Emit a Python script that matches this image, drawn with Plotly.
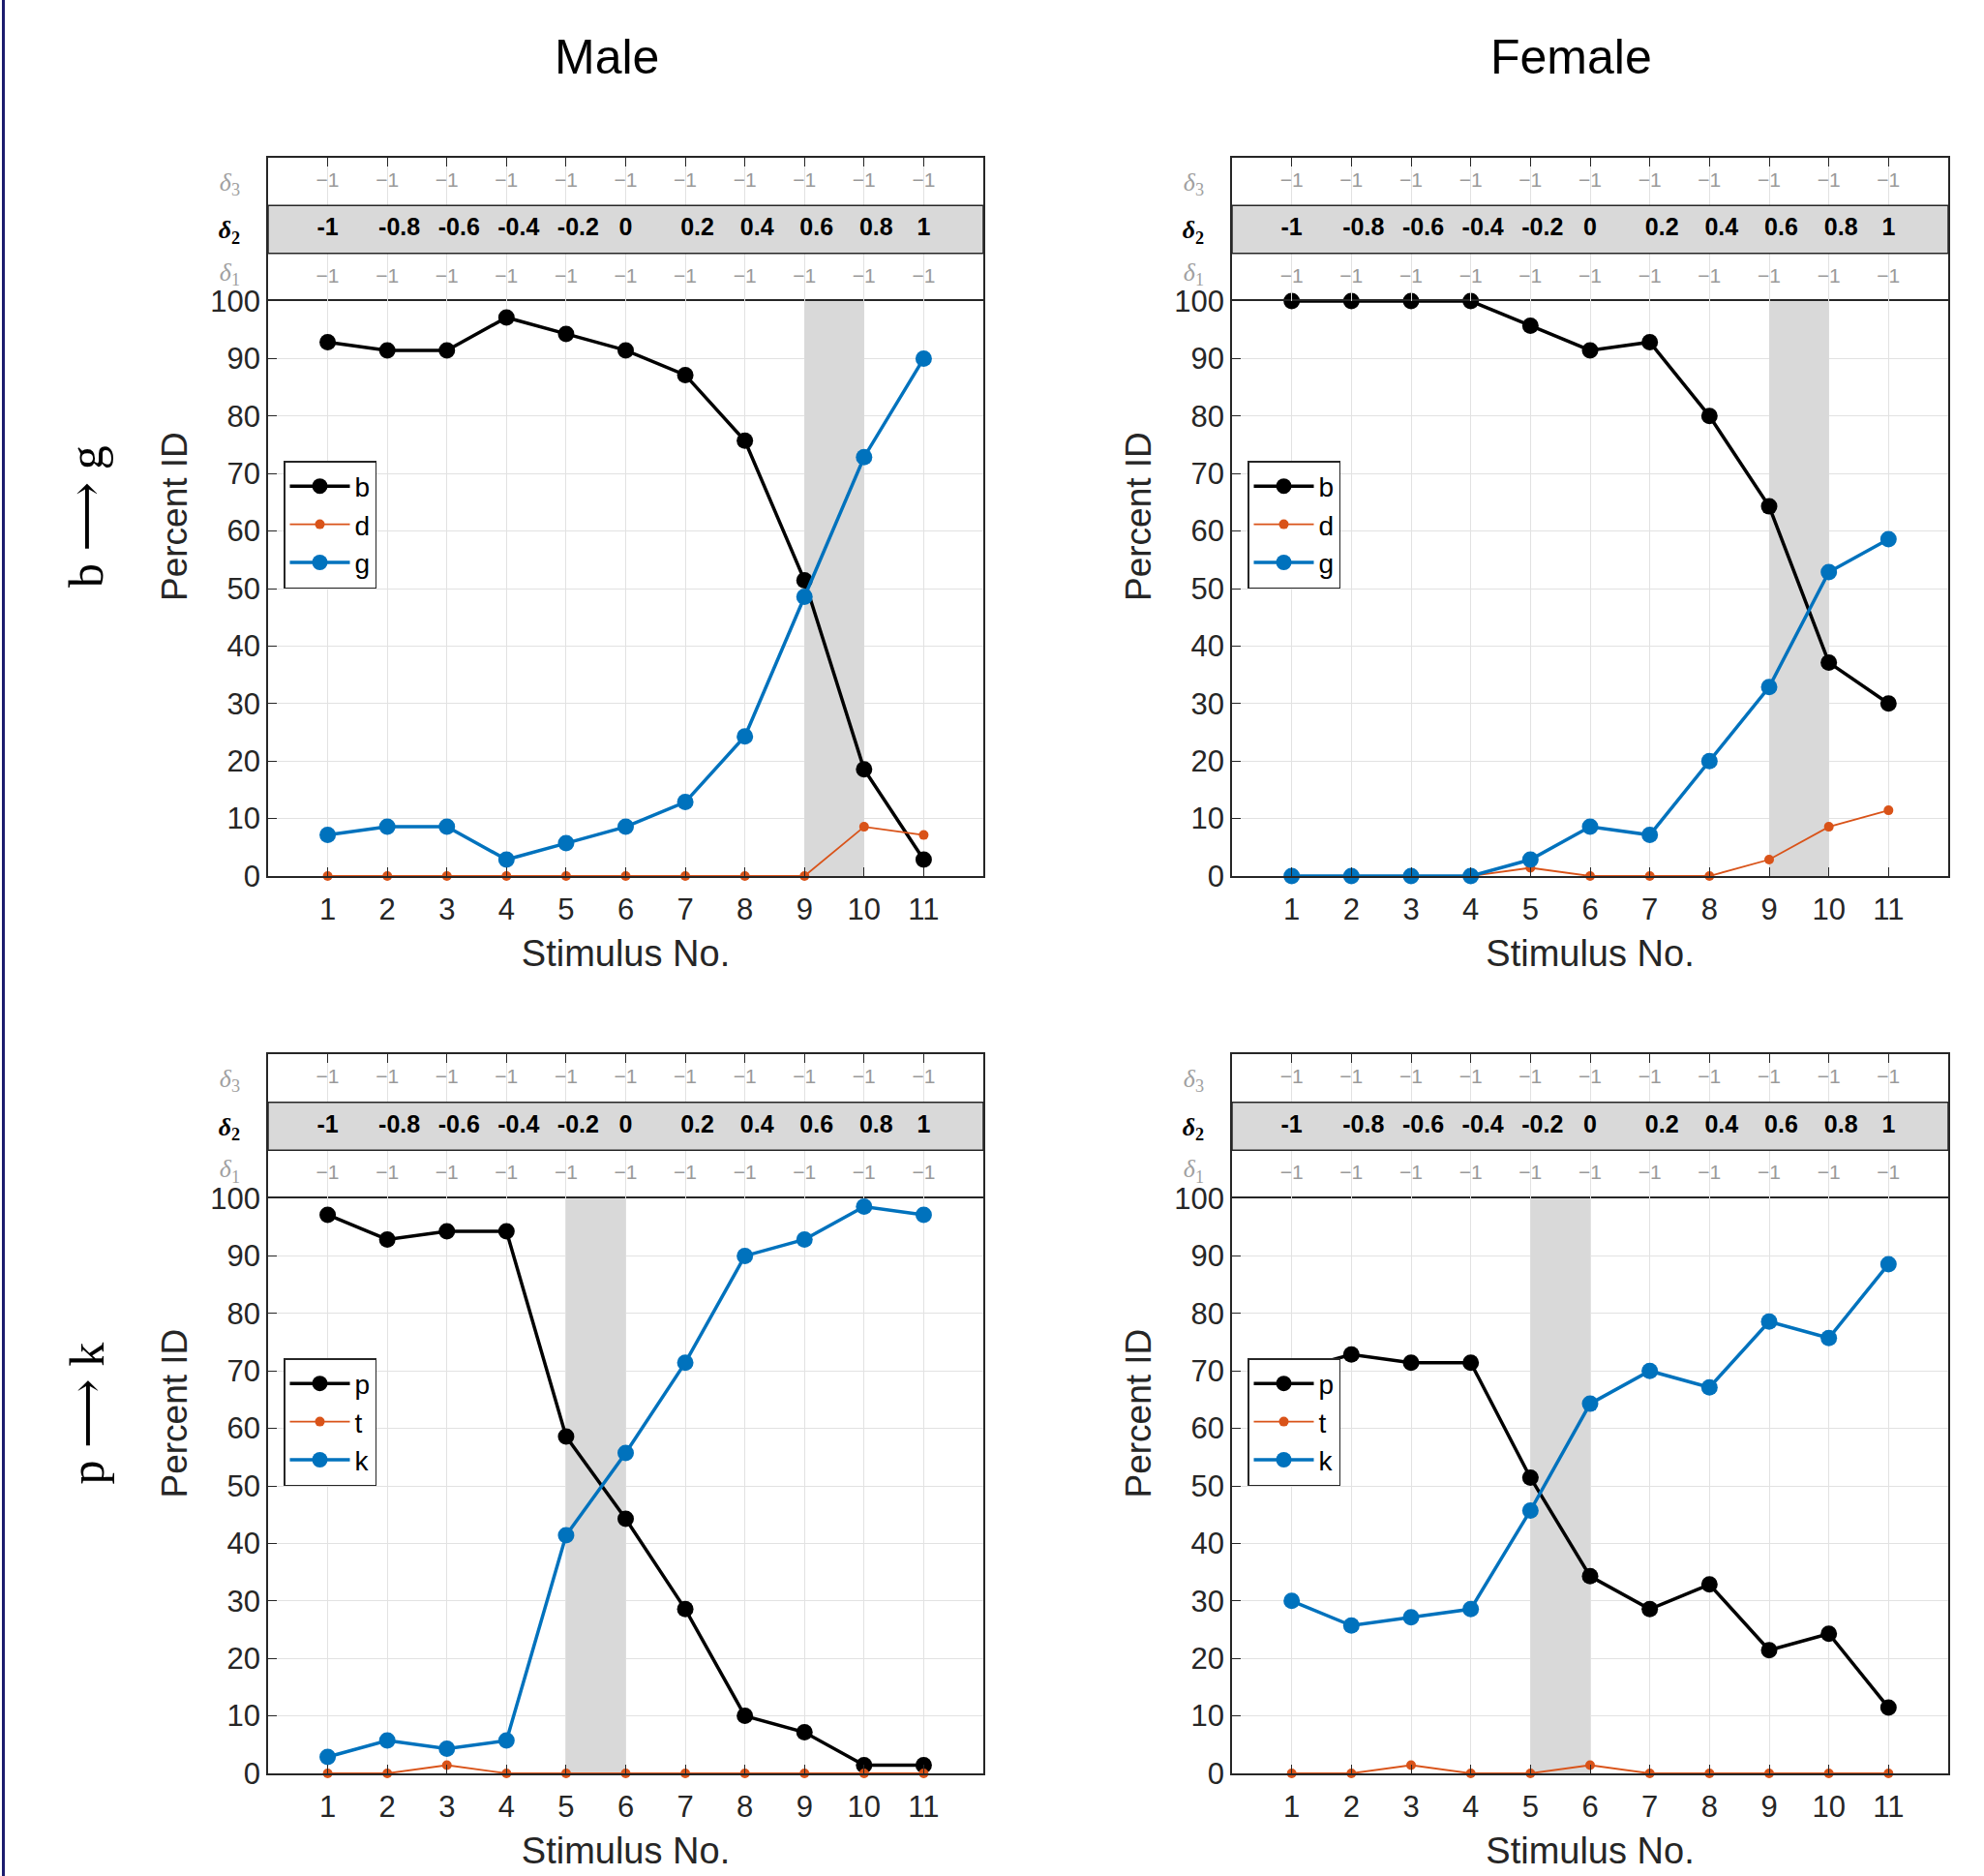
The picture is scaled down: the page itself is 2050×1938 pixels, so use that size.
import plotly.graph_objects as go

# ---------------- data ----------------
stimulus = [1, 2, 3, 4, 5, 6, 7, 8, 9, 10, 11]
delta3_labels = ["-1", "-1", "-1", "-1", "-1", "-1", "-1", "-1", "-1", "-1", "-1"]
delta2_labels = ["-1", "-0.8", "-0.6", "-0.4", "-0.2", "0", "0.2", "0.4", "0.6", "0.8", "1"]
delta1_labels = ["-1", "-1", "-1", "-1", "-1", "-1", "-1", "-1", "-1", "-1", "-1"]

male_bg_b = [92.86, 91.43, 91.43, 97.14, 94.29, 91.43, 87.14, 75.71, 51.43, 18.57, 2.86]
male_bg_d = [0, 0, 0, 0, 0, 0, 0, 0, 0, 8.57, 7.14]
male_bg_g = [7.14, 8.57, 8.57, 2.86, 5.71, 8.57, 12.86, 24.29, 48.57, 72.86, 90.0]

female_bg_b = [100, 100, 100, 100, 95.71, 91.43, 92.86, 80.0, 64.29, 37.14, 30.0]
female_bg_d = [0, 0, 0, 0, 1.43, 0, 0, 0, 2.86, 8.57, 11.43]
female_bg_g = [0, 0, 0, 0, 2.86, 8.57, 7.14, 20.0, 32.86, 52.86, 58.57]

male_pk_p = [97.14, 92.86, 94.29, 94.29, 58.57, 44.29, 28.57, 10.0, 7.14, 1.43, 1.43]
male_pk_t = [0, 0, 1.43, 0, 0, 0, 0, 0, 0, 0, 0]
male_pk_k = [2.86, 5.71, 4.29, 5.71, 41.43, 55.71, 71.43, 90.0, 92.86, 98.57, 97.14]

female_pk_p = [70.0, 72.86, 71.43, 71.43, 51.43, 34.29, 28.57, 32.86, 21.43, 24.29, 11.43]
female_pk_t = [0, 0, 1.43, 0, 0, 1.43, 0, 0, 0, 0, 0]
female_pk_k = [30.0, 25.71, 27.14, 28.57, 45.71, 64.29, 70.0, 67.14, 78.57, 75.71, 88.57]

col_titles = ["Male", "Female"]
row_titles = ["b \u27f6 g", "p \u27f6 k"]

panels = [
    dict(names=["b", "d", "g"], series=[male_bg_b, male_bg_d, male_bg_g], shade=[9, 10]),
    dict(names=["b", "d", "g"], series=[female_bg_b, female_bg_d, female_bg_g], shade=[9, 10]),
    dict(names=["p", "t", "k"], series=[male_pk_p, male_pk_t, male_pk_k], shade=[5, 6]),
    dict(names=["p", "t", "k"], series=[female_pk_p, female_pk_t, female_pk_k], shade=[5, 6]),
]

# ---------------- style ----------------
W, H = 2050, 1938
FONT = "Liberation Sans, Arial, sans-serif"
AX = "#262626"
GRID = "#e2e2e2"
SHADE = "#d9d9d9"
GRAYTXT = "#9a9a9a"
line_styles = [
    dict(color="#000000", width=3.5, msize=17),
    dict(color="#D95319", width=1.8, msize=10),
    dict(color="#0072BD", width=3.5, msize=17),
]

col_x = [(277, 1016), (1273, 2013)]
row_y = [(163, 311, 905), (1089, 1238, 1832)]  # header top, plot top, plot bottom
XR = [0, 12]


def px2x(p):
    return p / W


def px2y(p):
    return 1 - p / H


fig = go.Figure()
layout = dict(
    width=W, height=H, margin=dict(l=0, r=0, t=0, b=0, pad=0, autoexpand=False),
    paper_bgcolor="white", plot_bgcolor="white",
    font=dict(family=FONT, color=AX), showlegend=True,
)
shapes = []
annotations = []

for i, pan in enumerate(panels):
    r, c = divmod(i, 2)
    m = 2 * i + 1
    h = 2 * i + 2
    xd = [px2x(col_x[c][0]), px2x(col_x[c][1])]
    hy = [px2y(row_y[r][1]), px2y(row_y[r][0])]
    my = [px2y(row_y[r][2]), px2y(row_y[r][1])]
    leg = "legend" if i == 0 else f"legend{i + 1}"

    for k, (name, vals) in enumerate(zip(pan["names"], pan["series"])):
        st = line_styles[k]
        fig.add_trace(go.Scatter(
            x=stimulus, y=vals, name=name, mode="lines+markers",
            line=dict(color=st["color"], width=st["width"]),
            marker=dict(color=st["color"], size=st["msize"]),
            xaxis=f"x{m}", yaxis=f"y{m}", legend=leg, cliponaxis=False,
        ))

    # header texts
    for labels, yrow, fsize, fcol, bold in [
        (delta3_labels, 2.5, 21, GRAYTXT, False),
        (delta2_labels, 1.5, 25, "#000000", True),
        (delta1_labels, 0.5, 21, GRAYTXT, False),
    ]:
        txt = []
        for s in labels:
            if bold:
                t = ("\u2003" + s) if "." in s else s
                txt.append(f"<b>{t}</b>")
            else:
                txt.append(s.replace("-", "\u2212"))
        fig.add_trace(go.Scatter(
            x=stimulus, y=[yrow] * len(stimulus), mode="text", text=txt,
            textfont=dict(size=fsize, color=fcol, family=FONT),
            xaxis=f"x{h}", yaxis=f"y{h}", showlegend=False, hoverinfo="skip",
            cliponaxis=False,
        ))

    layout[f"xaxis{m}"] = dict(
        domain=xd, anchor=f"y{m}", range=XR, tickvals=stimulus, automargin=False,
        ticks="inside", ticklen=9, tickcolor=AX, showgrid=True, gridcolor=GRID,
        showline=True, linecolor=AX, linewidth=1.5, mirror=True, zeroline=False,
        tickfont=dict(size=31, color=AX), ticklabelstandoff=6,
        title=dict(text="Stimulus No.", font=dict(size=38, color=AX), standoff=15),
    )
    layout[f"yaxis{m}"] = dict(
        domain=my, anchor=f"x{m}", range=[0, 100], dtick=10, automargin=False,
        ticks="inside", ticklen=9, tickcolor=AX, showgrid=True, gridcolor=GRID,
        showline=True, linecolor=AX, linewidth=1.5, mirror=True, zeroline=False,
        tickfont=dict(size=31, color=AX),
    )
    layout[f"xaxis{h}"] = dict(
        domain=xd, anchor=f"y{h}", range=XR, tickvals=stimulus, automargin=False,
        side="top", ticks="inside", ticklen=9, tickcolor=AX, showticklabels=False,
        showgrid=True, gridcolor=GRID, showline=True, linecolor=AX, linewidth=1.5,
        mirror=False, zeroline=False,
    )
    layout[f"yaxis{h}"] = dict(
        domain=hy, anchor=f"x{h}", range=[0, 3], tickvals=[0.62, 1.5, 2.5], automargin=False,
        ticktext=[
            '<span style="color:#a0a0a0"><i>\u03b4</i><sub>1</sub></span>',
            "<b><i>\u03b4</i><sub>2</sub></b>",
            '<span style="color:#a0a0a0"><i>\u03b4</i><sub>3</sub></span>',
        ],
        tickfont=dict(size=26, color="#000000", family="Liberation Serif, serif"),
        ticks="", ticklabelstandoff=22, showgrid=False, showline=True, linecolor=AX,
        linewidth=1.5, mirror=True, zeroline=False,
    )
    # header delta2 band
    shapes.append(dict(
        type="rect", xref=f"x{h}", yref=f"y{h}", x0=XR[0], x1=XR[1], y0=1, y1=2,
        fillcolor=SHADE, line=dict(color=AX, width=1.5), layer="between",
    ))
    # shaded crossover interval
    shapes.append(dict(
        type="rect", xref=f"x{m}", yref=f"y{m}", x0=pan["shade"][0], x1=pan["shade"][1],
        y0=0, y1=100, fillcolor=SHADE, line=dict(width=0), layer="between",
    ))
    layout[leg] = dict(
        x=px2x(col_x[c][0] + 16), y=px2y(row_y[r][1] + 165),
        xanchor="left", yanchor="top", bgcolor="white", bordercolor=AX, borderwidth=1.5,
        font=dict(size=28, color="#000000"), itemwidth=62, tracegroupgap=0,
    )
    # y-axis title centred on header + plot (as in the original)
    annotations.append(dict(
        text="Percent ID", xref="paper", yref="paper", x=px2x(col_x[c][0] - 97),
        y=px2y((row_y[r][0] + row_y[r][2]) / 2), showarrow=False, textangle=-90,
        xanchor="center", yanchor="middle", font=dict(size=37, color=AX),
    ))

# column titles
for c, t in enumerate(col_titles):
    annotations.append(dict(
        text=t, xref="paper", yref="paper", x=px2x((col_x[c][0] + col_x[c][1]) / 2 - 20),
        y=px2y(59), showarrow=False, xanchor="center", yanchor="middle",
        font=dict(size=50, color="#000000", family="Liberation Sans Narrow, Liberation Sans, sans-serif"),
    ))
# row titles
for r, t in enumerate(row_titles):
    annotations.append(dict(
        text=t, xref="paper", yref="paper", x=px2x(89),
        y=px2y((row_y[r][0] + row_y[r][2]) / 2), showarrow=False, textangle=-90,
        xanchor="center", yanchor="middle",
        font=dict(size=50, color="#000000", family="Liberation Serif, DejaVu Serif, serif"),
    ))

# left frame line
shapes.append(dict(type="line", xref="paper", yref="paper", x0=0.0017, x1=0.0017, y0=0, y1=1,
                   line=dict(color="#1c1c6e", width=3)))

layout["shapes"] = shapes
layout["annotations"] = annotations
fig.update_layout(**layout)
fig.write_html("out.html")
